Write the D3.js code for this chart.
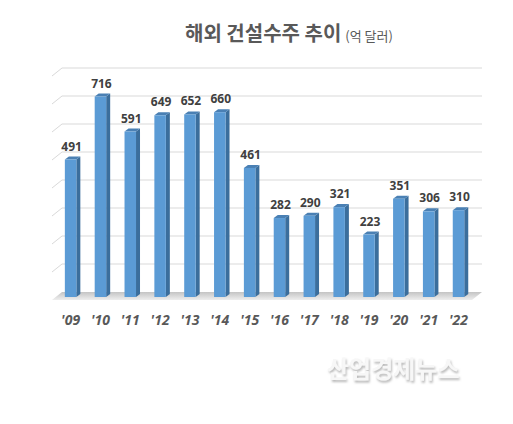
<!DOCTYPE html>
<html>
<head>
<meta charset="utf-8">
<script src="https://cdn.jsdelivr.net/npm/d3@7"></script>
<style>
  html, body { margin: 0; padding: 0; background: #fff; }
  svg { display: block; }
</style>
</head>
<body>
<svg id="chart" width="513" height="424"></svg>
<script>
// 해외 건설수주 (억 달러)
var years = ["'09", "'10", "'11", "'12", "'13", "'14", "'15", "'16", "'17", "'18", "'19", "'20", "'21", "'22"];
var values = [491, 716, 591, 649, 652, 660, 461, 282, 290, 321, 223, 351, 306, 310];
var gridTicks = [0, 100, 200, 300, 400, 500, 600, 700, 800];

var svg = d3.select("#chart");
var defs = svg.append("defs");

var x = d3.scaleBand()
  .domain(years)
  .range([55.6, 473.5])
  .paddingInner(0.615)
  .paddingOuter(0.31);

var y = d3.scaleLinear()
  .domain([0, 800])
  .range([297, 73]);

// depth of the wall / floor and of each bar
var wallDx = 10, wallDy = 8;
var barDx = 4, barDy = 3;

var floorGrad = defs.append("linearGradient")
  .attr("id", "floorGrad")
  .attr("x1", 0).attr("y1", 0).attr("x2", 0).attr("y2", 1);
floorGrad.append("stop").attr("offset", "0%").attr("stop-color", "#c4c4c4");
floorGrad.append("stop").attr("offset", "100%").attr("stop-color", "#eeeeee");

// embossed look for the watermark
var emboss = defs.append("filter").attr("id", "emboss")
  .attr("x", "-10%").attr("y", "-20%").attr("width", "120%").attr("height", "150%");
emboss.append("feOffset").attr("in", "SourceAlpha").attr("dx", 1).attr("dy", 2).attr("result", "off");
emboss.append("feGaussianBlur").attr("in", "off").attr("stdDeviation", 0.9).attr("result", "blur");
emboss.append("feFlood").attr("flood-color", "#b8b8b8");
emboss.append("feComposite").attr("in2", "blur").attr("operator", "in").attr("result", "shadow");
var merge = emboss.append("feMerge");
merge.append("feMergeNode").attr("in", "shadow");
merge.append("feMergeNode").attr("in", "SourceGraphic");

var left = 52, right = 472;

// gridlines on the back wall, with the short side-wall diagonal
var grid = svg.append("g").attr("class", "grid");
gridTicks.slice(1).forEach(function(v) {
  var yb = y(v) + 3;
  grid.append("path")
    .attr("d", "M" + left + "," + yb + "L" + (left + wallDx) + "," + (yb - wallDy) + "L" + (right + wallDx) + "," + (yb - wallDy))
    .attr("fill", "none")
    .attr("stroke", "#d9d9d9")
    .attr("stroke-width", 1);
});

// floor
var yf = y(0) + 3;
svg.append("path")
  .attr("d", "M" + left + "," + yf + "L" + right + "," + yf + "L" + (right + wallDx) + "," + (yf - wallDy) + "L" + (left + wallDx) + "," + (yf - wallDy) + "Z")
  .attr("fill", "url(#floorGrad)");

// bars
var bars = svg.append("g").selectAll("g.bar")
  .data(values)
  .enter().append("g")
    .attr("class", "bar");

bars.append("path")
  .attr("fill", "#3b6e9c")
  .attr("d", function(d, i) {
    var x1 = x(years[i]) + x.bandwidth();
    return "M" + x1 + "," + y(d) + "L" + (x1 + barDx) + "," + (y(d) - barDy) + "L" + (x1 + barDx) + "," + (y(0) - barDy) + "L" + x1 + "," + y(0) + "Z";
  });

bars.append("path")
  .attr("fill", "#4a80b4")
  .attr("d", function(d, i) {
    var x0 = x(years[i]), x1 = x0 + x.bandwidth();
    return "M" + x0 + "," + y(d) + "L" + x1 + "," + y(d) + "L" + (x1 + barDx) + "," + (y(d) - barDy) + "L" + (x0 + barDx) + "," + (y(d) - barDy) + "Z";
  });

bars.append("rect")
  .attr("x", function(d, i) { return x(years[i]); })
  .attr("y", function(d) { return y(d); })
  .attr("width", x.bandwidth())
  .attr("height", function(d) { return y(0) - y(d); })
  .attr("fill", "#5b9bd5");

// value labels
svg.append("g").selectAll("text")
  .data(values)
  .enter().append("text")
    .attr("x", function(d, i) { return x(years[i]) + x.bandwidth() / 2 + 1; })
    .attr("y", function(d) { return y(d) - 9; })
    .attr("text-anchor", "middle")
    .attr("font-family", "'Noto Sans', sans-serif")
    .attr("font-weight", "bold")
    .attr("font-size", 12)
    .attr("fill", "#404040")
    .text(function(d) { return d; });

// x axis labels
var xAxis = svg.append("g")
  .attr("transform", "translate(0," + 325 + ")")
  .call(d3.axisBottom(x).tickSize(0).tickPadding(0));
xAxis.select(".domain").remove();
xAxis.selectAll(".tick text")
  .attr("dy", 0)
  .attr("font-family", "'Noto Sans', sans-serif")
  .attr("font-style", "italic")
  .attr("font-weight", "bold")
  .attr("font-size", 14)
  .attr("fill", "#595959");

// title
var title = svg.append("text")
  .attr("x", 185)
  .attr("y", 41)
  .attr("font-family", "'Noto Sans CJK KR', sans-serif")
  .attr("fill", "#595959");
title.append("tspan")
  .attr("font-weight", "bold")
  .attr("font-size", 20)
  .text("해외 건설수주 추이");
title.append("tspan")
  .attr("font-size", 13)
  .attr("dx", 4)
  .text("(억 달러)");

// watermark
svg.append("text")
  .attr("x", 327).attr("y", 378)
  .attr("font-family", "'Noto Sans CJK KR', sans-serif")
  .attr("font-weight", "bold")
  .attr("font-size", 24)
  .attr("fill", "#f7f7f7")
  .attr("filter", "url(#emboss)")
  .text("산업경제뉴스");
</script>
</body>
</html>
